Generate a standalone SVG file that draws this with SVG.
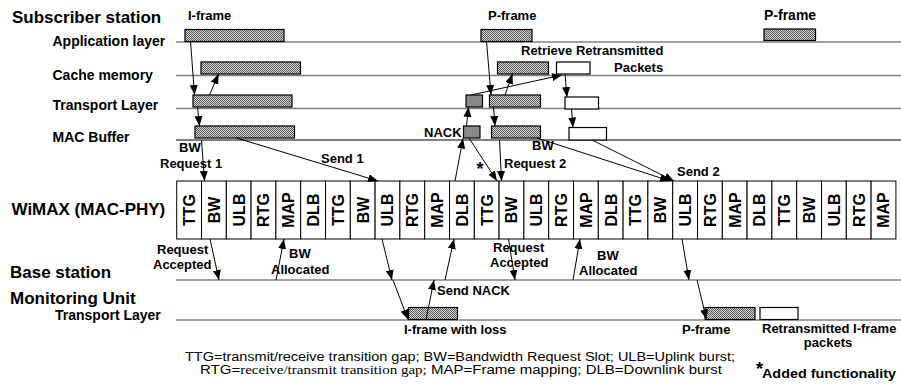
<svg xmlns="http://www.w3.org/2000/svg" width="901" height="387" viewBox="0 0 901 387">
<defs>
<pattern id="dots" width="2" height="2" patternUnits="userSpaceOnUse"><rect width="2" height="2" fill="#d4d4d4"/><rect width="1" height="1" fill="#5a5a5a"/><rect x="1" y="1" width="1" height="1" fill="#5a5a5a"/></pattern>
<marker id="ah" viewBox="0 0 10 8" refX="10" refY="4" markerWidth="10" markerHeight="8" orient="auto" markerUnits="userSpaceOnUse"><path d="M0,0 L10,4 L0,8 z" fill="#000"/></marker>
</defs>
<style>
.t{font-family:"Liberation Sans",Arial,sans-serif;font-weight:bold;fill:#000}
.big{font-size:17px}
.row{font-size:14px}
.sm{font-size:13px}
.cell{font-size:16px;text-anchor:middle}
.gl{stroke:#808080;stroke-width:1.6;fill:none}
.bl{stroke:#000;stroke-width:1.2;fill:none}
.bar{fill:url(#dots);stroke:#000;stroke-width:1.2}
.nack{fill:#888;stroke:#000;stroke-width:1.2}
.wb{fill:#fff;stroke:#000;stroke-width:1.2}
.cr{fill:#fff;stroke:#000;stroke-width:1}
.ar{stroke:#000;stroke-width:1;fill:none;marker-end:url(#ah)}
.fn{font-family:"Liberation Sans",Arial,sans-serif;font-size:12px;fill:#000}
.fs{font-family:"Liberation Serif","Times New Roman",serif}
</style>
<rect width="901" height="387" fill="#fff"/>

<g id="lines">
<line class="gl" x1="176" y1="42" x2="901" y2="42"/>
<line class="gl" x1="176" y1="75.5" x2="901" y2="75.5"/>
<line class="gl" x1="176" y1="108.5" x2="901" y2="108.5"/>
<line class="bl" x1="176" y1="140" x2="901" y2="140"/>
<line class="gl" x1="176" y1="280" x2="901" y2="280"/>
<line class="gl" x1="176" y1="320" x2="901" y2="320"/>
</g>

<g id="labels">
<text class="t big" x="12" y="22.5">Subscriber station</text>
<text class="t row" x="52.5" y="46">Application layer</text>
<text class="t row" x="52.5" y="80">Cache memory</text>
<text class="t row" x="52.5" y="110">Transport Layer</text>
<text class="t row" x="52.5" y="141.5">MAC Buffer</text>
<text class="t big" x="11.5" y="215">WiMAX (MAC-PHY)</text>
<text class="t big" x="10" y="278">Base station</text>
<text class="t big" x="10" y="303.5">Monitoring Unit</text>
<text class="t row" x="55" y="319.5">Transport Layer</text>
</g>

<g id="app-iframe">
<text class="t sm" x="188" y="20">I-frame</text>
<rect class="bar" x="185" y="29.5" width="99" height="12"/>
</g>
<g id="cache-iframe"><rect class="bar" x="201" y="62" width="99.5" height="12"/></g>
<g id="transport-iframe"><rect class="bar" x="193" y="95" width="99" height="12"/></g>
<g id="mac-iframe"><rect class="bar" x="195" y="126" width="99.5" height="12"/></g>

<g id="app-pframe">
<text class="t sm" x="488" y="20">P-frame</text>
<rect class="bar" x="481" y="29.5" width="51" height="12"/>
</g>
<g id="cache-pframe"><rect class="bar" x="497.5" y="62" width="51" height="12"/></g>
<g id="cache-retrieve">
<rect class="wb" x="556.5" y="62" width="33.5" height="12"/>
<text class="t sm" x="521" y="55">Retrieve Retransmitted</text>
<text class="t sm" x="614" y="71.5">Packets</text>
</g>
<g id="transport-nack"><rect class="nack" x="466" y="95" width="16.5" height="12"/></g>
<g id="transport-pframe"><rect class="bar" x="489.5" y="95" width="51" height="12"/></g>
<g id="transport-retx"><rect class="wb" x="565" y="97" width="33.5" height="12"/></g>
<g id="mac-nack">
<rect class="nack" x="463.5" y="126" width="16.5" height="12"/>
<text class="t sm" x="424" y="137">NACK</text>
</g>
<g id="mac-pframe"><rect class="bar" x="491.5" y="126" width="49" height="12"/></g>
<g id="mac-retx"><rect class="wb" x="569" y="127.5" width="37.5" height="12.5"/></g>

<g id="app-pframe2">
<text class="t row" x="764" y="20">P-frame</text>
<rect class="bar" x="764" y="29" width="51.5" height="11.5"/>
</g>

<g id="wimax-frame">
<rect class="cr" x="176.7" y="181" width="24.8" height="58"/>
<rect class="cr" x="201.5" y="181" width="24.8" height="58"/>
<rect class="cr" x="226.3" y="181" width="24.8" height="58"/>
<rect class="cr" x="251.1" y="181" width="24.8" height="58"/>
<rect class="cr" x="275.9" y="181" width="24.8" height="58"/>
<rect class="cr" x="300.7" y="181" width="24.8" height="58"/>
<rect class="cr" x="325.5" y="181" width="24.8" height="58"/>
<rect class="cr" x="350.3" y="181" width="24.8" height="58"/>
<rect class="cr" x="375.1" y="181" width="24.8" height="58"/>
<rect class="cr" x="399.9" y="181" width="24.8" height="58"/>
<rect class="cr" x="424.7" y="181" width="24.8" height="58"/>
<rect class="cr" x="449.5" y="181" width="24.8" height="58"/>
<rect class="cr" x="474.3" y="181" width="24.8" height="58"/>
<rect class="cr" x="499.1" y="181" width="24.8" height="58"/>
<rect class="cr" x="523.9" y="181" width="24.8" height="58"/>
<rect class="cr" x="548.7" y="181" width="24.8" height="58"/>
<rect class="cr" x="573.5" y="181" width="24.8" height="58"/>
<rect class="cr" x="598.3" y="181" width="24.8" height="58"/>
<rect class="cr" x="623.1" y="181" width="24.8" height="58"/>
<rect class="cr" x="647.9" y="181" width="24.8" height="58"/>
<rect class="cr" x="672.7" y="181" width="24.8" height="58"/>
<rect class="cr" x="697.5" y="181" width="24.8" height="58"/>
<rect class="cr" x="722.3" y="181" width="24.8" height="58"/>
<rect class="cr" x="747.1" y="181" width="24.8" height="58"/>
<rect class="cr" x="771.9" y="181" width="24.8" height="58"/>
<rect class="cr" x="796.7" y="181" width="24.8" height="58"/>
<rect class="cr" x="821.5" y="181" width="24.8" height="58"/>
<rect class="cr" x="846.3" y="181" width="24.8" height="58"/>
<rect class="cr" x="871.1" y="181" width="24.8" height="58"/>
<text class="t cell" transform="translate(189.1,210) rotate(-90)" y="5.8">TTG</text>
<text class="t cell" transform="translate(213.9,210) rotate(-90)" y="5.8">BW</text>
<text class="t cell" transform="translate(238.7,210) rotate(-90)" y="5.8">ULB</text>
<text class="t cell" transform="translate(263.5,210) rotate(-90)" y="5.8">RTG</text>
<text class="t cell" transform="translate(288.3,210) rotate(-90)" y="5.8">MAP</text>
<text class="t cell" transform="translate(313.1,210) rotate(-90)" y="5.8">DLB</text>
<text class="t cell" transform="translate(337.9,210) rotate(-90)" y="5.8">TTG</text>
<text class="t cell" transform="translate(362.7,210) rotate(-90)" y="5.8">BW</text>
<text class="t cell" transform="translate(387.5,210) rotate(-90)" y="5.8">ULB</text>
<text class="t cell" transform="translate(412.3,210) rotate(-90)" y="5.8">RTG</text>
<text class="t cell" transform="translate(437.1,210) rotate(-90)" y="5.8">MAP</text>
<text class="t cell" transform="translate(461.9,210) rotate(-90)" y="5.8">DLB</text>
<text class="t cell" transform="translate(486.7,210) rotate(-90)" y="5.8">TTG</text>
<text class="t cell" transform="translate(511.5,210) rotate(-90)" y="5.8">BW</text>
<text class="t cell" transform="translate(536.3,210) rotate(-90)" y="5.8">ULB</text>
<text class="t cell" transform="translate(561.1,210) rotate(-90)" y="5.8">RTG</text>
<text class="t cell" transform="translate(585.9,210) rotate(-90)" y="5.8">MAP</text>
<text class="t cell" transform="translate(610.7,210) rotate(-90)" y="5.8">DLB</text>
<text class="t cell" transform="translate(635.5,210) rotate(-90)" y="5.8">TTG</text>
<text class="t cell" transform="translate(660.3,210) rotate(-90)" y="5.8">BW</text>
<text class="t cell" transform="translate(685.1,210) rotate(-90)" y="5.8">ULB</text>
<text class="t cell" transform="translate(709.9,210) rotate(-90)" y="5.8">RTG</text>
<text class="t cell" transform="translate(734.7,210) rotate(-90)" y="5.8">MAP</text>
<text class="t cell" transform="translate(759.5,210) rotate(-90)" y="5.8">DLB</text>
<text class="t cell" transform="translate(784.3,210) rotate(-90)" y="5.8">TTG</text>
<text class="t cell" transform="translate(809.1,210) rotate(-90)" y="5.8">BW</text>
<text class="t cell" transform="translate(833.9,210) rotate(-90)" y="5.8">ULB</text>
<text class="t cell" transform="translate(858.7,210) rotate(-90)" y="5.8">RTG</text>
<text class="t cell" transform="translate(883.5,210) rotate(-90)" y="5.8">MAP</text>
</g>

<g id="mon-iframe">
<rect class="bar" x="408.5" y="307.5" width="49" height="12"/>
<text class="t sm" x="404" y="334">I-frame with loss</text>
</g>
<g id="mon-pframe">
<rect class="bar" x="705" y="307.5" width="50" height="12"/>
<text class="t sm" x="682" y="334">P-frame</text>
</g>
<g id="mon-retx">
<rect class="wb" x="760" y="307.5" width="38" height="12"/>
<text class="t sm" x="762" y="333">Retransmitted I-frame</text>
<text class="t sm" x="828" y="347" text-anchor="middle">packets</text>
</g>

<g id="connectors">
<line class="ar" x1="190.5" y1="41" x2="194.5" y2="95"/>
<line class="ar" x1="209.5" y1="95" x2="218.5" y2="74"/>
<line class="ar" x1="197.5" y1="107" x2="199.5" y2="126"/>
<line class="ar" x1="236.5" y1="138" x2="378" y2="181"/>
<line class="ar" x1="201.5" y1="140" x2="204.5" y2="181"/>
<line class="ar" x1="210" y1="239" x2="219" y2="280"/>
<line class="ar" x1="276" y1="280" x2="284" y2="239"/>
<line class="ar" x1="382" y1="239" x2="392" y2="280"/>
<line class="ar" x1="393" y1="280" x2="408" y2="319.5"/>
<line class="ar" x1="426" y1="319.5" x2="434" y2="280"/>
<line class="ar" x1="445" y1="280" x2="454" y2="239"/>
<line class="ar" x1="455" y1="181" x2="463" y2="138.5"/>
<line class="ar" x1="466.5" y1="126" x2="468.5" y2="107"/>
<line class="ar" x1="471" y1="95" x2="562" y2="75"/>
<line class="ar" x1="486.5" y1="41" x2="491" y2="95"/>
<line class="ar" x1="505" y1="95" x2="512.5" y2="74"/>
<line class="ar" x1="493.5" y1="107" x2="495" y2="126"/>
<line class="ar" x1="565" y1="74" x2="567" y2="97"/>
<line class="ar" x1="571.5" y1="109" x2="573" y2="127.5"/>
<line class="ar" x1="469" y1="138" x2="497" y2="181"/>
<line class="ar" x1="499.5" y1="140" x2="501.5" y2="181"/>
<line class="ar" x1="537" y1="138" x2="670" y2="181"/>
<line class="ar" x1="592" y1="140" x2="674" y2="181"/>
<line class="ar" x1="508.5" y1="239" x2="515" y2="280"/>
<line class="ar" x1="573" y1="280" x2="580" y2="239"/>
<line class="ar" x1="682" y1="239" x2="689" y2="280"/>
<line class="ar" x1="697" y1="280" x2="706.5" y2="319.5"/>
</g>

<g id="connector-labels">
<text class="t sm" x="179" y="151.5">BW</text>
<text class="t sm" x="160" y="168">Request 1</text>
<text class="t sm" x="321" y="162.5">Send 1</text>
<text class="t" style="font-size:18px" x="480" y="174.5" text-anchor="middle">*</text>
<text class="t sm" x="532" y="150">BW</text>
<text class="t sm" x="504" y="168">Request 2</text>
<text class="t sm" x="677" y="176">Send 2</text>
<text class="t sm" x="157" y="254">Request</text>
<text class="t sm" x="153" y="268.5">Accepted</text>
<text class="t sm" x="289" y="257.5">BW</text>
<text class="t sm" x="271" y="273.5">Allocated</text>
<text class="t sm" x="493" y="252">Request</text>
<text class="t sm" x="490" y="267">Accepted</text>
<text class="t sm" x="597" y="259.5">BW</text>
<text class="t sm" x="579" y="275">Allocated</text>
<text class="t sm" x="437" y="294.5">Send NACK</text>
</g>

<g id="legend">
<text class="fn" x="185" y="360.5" textLength="550" lengthAdjust="spacingAndGlyphs">TTG=transmit/receive transition gap; BW=Bandwidth Request Slot; ULB=Uplink burst;</text>
<text class="fn" x="200" y="373.5" textLength="522" lengthAdjust="spacingAndGlyphs">RTG=<tspan class="fs">receive/transmit transition gap;</tspan> MAP=Frame mapping; DLB=Downlink burst</text>
<text class="t" style="font-size:18px" x="759.5" y="375" text-anchor="middle">*</text>
<text class="t sm" x="762" y="378" textLength="134" lengthAdjust="spacingAndGlyphs">Added functionality</text>
</g>
</svg>
